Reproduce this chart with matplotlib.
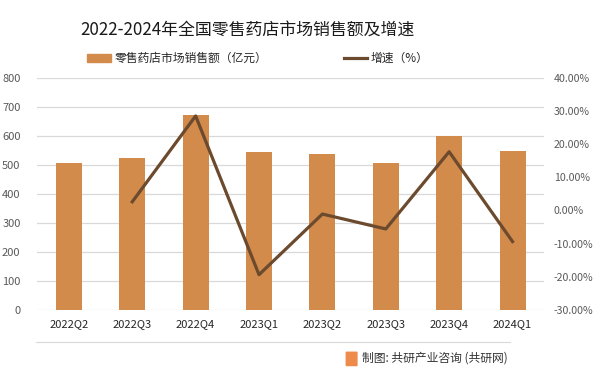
import matplotlib
matplotlib.use("Agg")
import matplotlib.pyplot as plt
import matplotlib.patches as mpatches
import numpy as np

plt.rcParams["font.family"] = ["Noto Sans CJK SC", "DejaVu Sans"]

# ── Data ──────────────────────────────────────────────────────────────────────
QUARTERS = ["2022Q2", "2022Q3", "2022Q4", "2023Q1", "2023Q2", "2023Q3", "2023Q4", "2024Q1"]
SALES    = [507, 524, 672, 543, 538, 507, 600, 546]          # 亿元
GROWTH   = [np.nan, 2.6, 28.5, -19.4, -1.1, -5.6, 17.7, -9.4]  # %

BAR_COLOR  = "#D38B4C"
LINE_COLOR = "#6B4A2E"
TICK_COLOR = "#595959"
GRID_COLOR = "#D9D9D9"

fig = plt.figure(figsize=(6, 3.76), dpi=100)
ax = fig.add_axes([0.062, 0.176, 0.845, 0.617])
ax2 = ax.twinx()

x = np.arange(len(QUARTERS))
ax.bar(x, SALES, width=0.41, color=BAR_COLOR, zorder=2)
ax2.plot(x, GROWTH, color=LINE_COLOR, linewidth=2.3, zorder=3)

ax.set_xlim(-0.5, len(QUARTERS) - 0.5)
ax.set_ylim(0, 800)
ax.set_yticks(range(0, 801, 100))
ax2.set_ylim(-30, 40)
ax2.set_yticks(range(-30, 41, 10))
ax2.set_yticklabels([f"{v:.2f}%" for v in range(-30, 41, 10)])

ax.set_xticks(x)
ax.set_xticklabels(QUARTERS)
ax.grid(axis="y", color=GRID_COLOR, linewidth=0.9, zorder=0)
ax.set_axisbelow(True)

for a in (ax, ax2):
    for s in a.spines.values():
        s.set_visible(False)
    a.tick_params(length=0, labelsize=8, colors=TICK_COLOR)
ax.tick_params(axis="x", colors="#262626", pad=7)
ax.tick_params(axis="y", pad=12)
ax2.tick_params(axis="y", pad=7, labelsize=7.6)

# Title
fig.text(0.413, 0.922, "2022-2024年全国零售药店市场销售额及增速",
         ha="center", va="center", fontsize=12.2, color="#1a1a1a")

# Legend
handles = [
    mpatches.Patch(color=BAR_COLOR, label="零售药店市场销售额（亿元）"),
    plt.Line2D([0], [0], color=LINE_COLOR, linewidth=2.3, label="增速（%）"),
]
fig.legend(handles=handles, loc="center", bbox_to_anchor=(0.43, 0.845), ncol=2,
           frameon=False, fontsize=8.5, columnspacing=6.5, handlelength=2.0,
           handletextpad=0.3, labelcolor="#262626")

# Bottom separator line and footer
fig.add_artist(plt.Line2D([0.06, 0.85], [0.09, 0.09], color=GRID_COLOR, linewidth=0.8))
fig.patches.append(mpatches.FancyBboxPatch((0.578, 0.028), 0.016, 0.035,
                   boxstyle="round,pad=0.002", transform=fig.transFigure,
                   facecolor="#EE8A4A", edgecolor="none"))
fig.text(0.604, 0.047, "制图: 共研产业咨询 (共研网)", ha="left", va="center",
         fontsize=8.5, color="#333333")

fig.savefig("out.png", dpi=100)
